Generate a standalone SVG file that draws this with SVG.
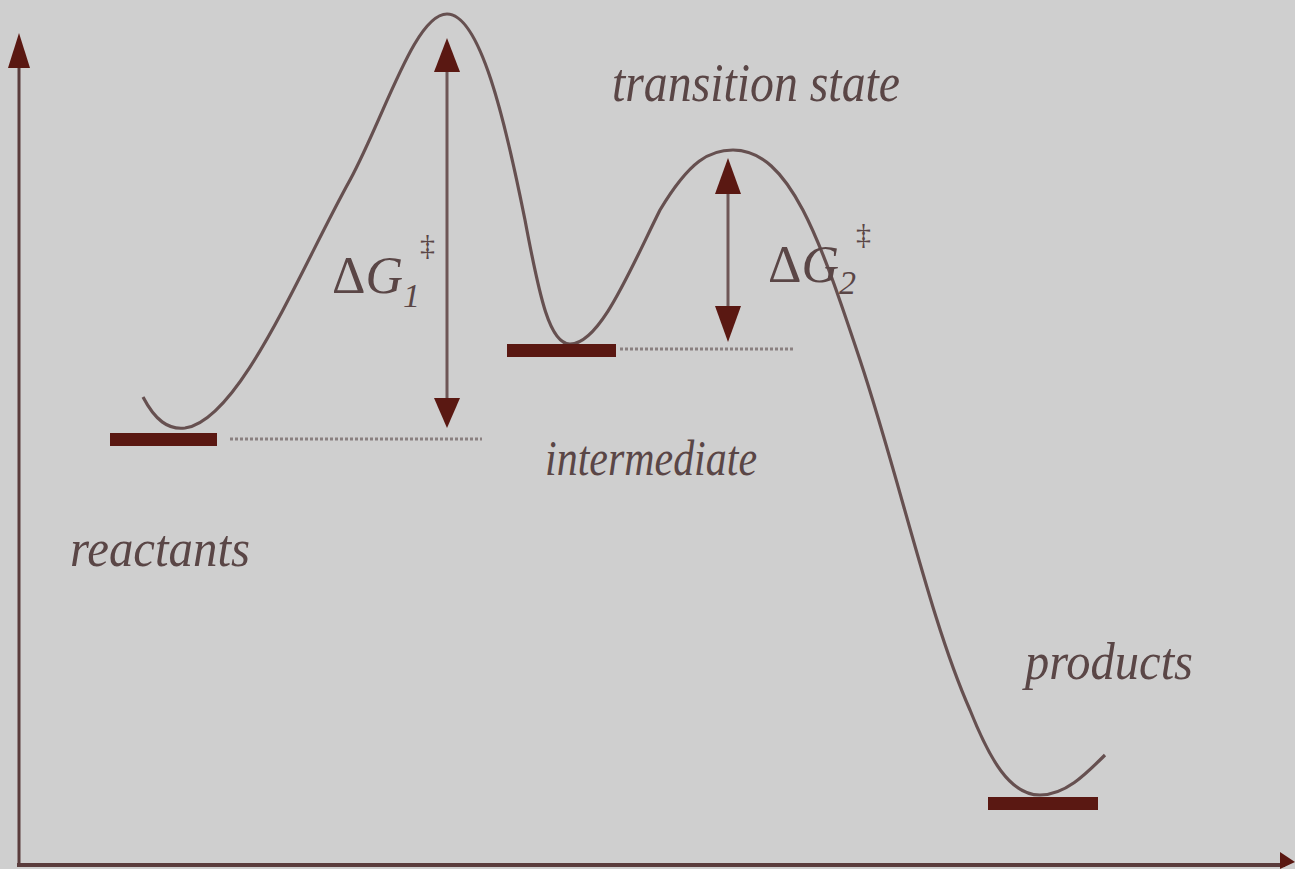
<svg xmlns="http://www.w3.org/2000/svg" width="1295" height="869" viewBox="0 0 1295 869">
<style>
.lbl{font-family:"Liberation Serif",serif;font-style:italic;fill:#5a4646;}
.bar{fill:#5a1812;}
.dot{stroke:#8a8080;stroke-width:3;stroke-dasharray:3,2;fill:none;}
.arr{stroke:#6e5656;stroke-width:3;fill:none;}
.head{fill:#5a1812;}
</style>
<rect width="1295" height="869" fill="#cfcfcf"/>
<g id="axes">
<line x1="19" y1="865" x2="19" y2="60" stroke="#5a3c3c" stroke-width="3"/>
<polygon class="head" points="19,33 8,68 30,68"/>
<line x1="17" y1="865" x2="1285" y2="865" stroke="#5a3c3c" stroke-width="4"/>
<polygon class="head" points="1295,862 1280,852 1280,869"/>
</g>
<g id="curve">
<path d="M143,397 C155,420 168,430 185,428 C240,420 300,270 350,180 C385,115 415,14 447,14 C480,14 505,120 525,220 C540,300 550,344 570,344 C600,344 630,270 660,210 C690,160 710,150 733,150 C790,150 820,240 860,360 C900,480 930,620 970,710 C990,760 1010,795 1040,795 C1065,795 1085,775 1105,755" fill="none" stroke="#665050" stroke-width="3.2"/>
</g>
<g id="reactants">
<rect class="bar" x="110" y="433" width="107" height="13"/>
<line class="dot" x1="230" y1="439" x2="482" y2="439"/>
<text class="lbl" x="70" y="566" font-size="52" textLength="180" lengthAdjust="spacingAndGlyphs">reactants</text>
</g>
<g id="intermediate">
<rect class="bar" x="507" y="344" width="109" height="13"/>
<line class="dot" x1="620" y1="349" x2="795" y2="349"/>
<text class="lbl" x="545" y="475" font-size="50" textLength="212" lengthAdjust="spacingAndGlyphs">intermediate</text>
</g>
<g id="products">
<rect class="bar" x="988" y="797" width="110" height="13"/>
<text class="lbl" x="1025" y="679" font-size="52" textLength="168" lengthAdjust="spacingAndGlyphs">products</text>
</g>
<g id="transition-state">
<text class="lbl" x="612" y="101" font-size="54" textLength="288" lengthAdjust="spacingAndGlyphs">transition state</text>
</g>
<g id="dG1">
<line class="arr" x1="447" y1="70" x2="447" y2="400"/>
<polygon class="head" points="447,38 434,72 460,72"/>
<polygon class="head" points="447,428 434,398 460,398"/>
<text class="lbl" x="332" y="293" font-size="52" style="font-style:normal">Δ<tspan font-style="italic">G</tspan><tspan font-style="italic" font-size="34" dy="14">1</tspan><tspan font-size="30" dy="-52">‡</tspan></text>
</g>
<g id="dG2">
<line class="arr" x1="728" y1="190" x2="728" y2="310"/>
<polygon class="head" points="728,158 715,194 741,194"/>
<polygon class="head" points="728,342 715,306 741,306"/>
<text class="lbl" x="768" y="282" font-size="52" style="font-style:normal">Δ<tspan font-style="italic">G</tspan><tspan font-style="italic" font-size="34" dy="12">2</tspan><tspan font-size="30" dy="-50">‡</tspan></text>
</g>
</svg>
